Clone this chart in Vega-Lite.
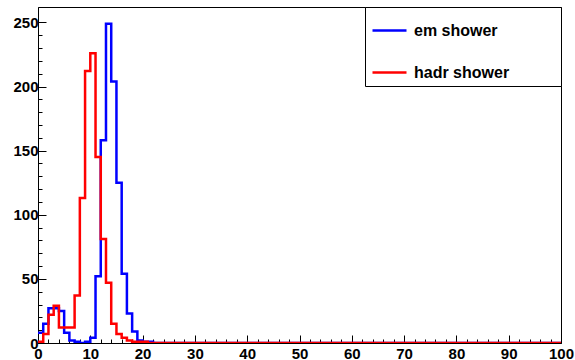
{
  "$schema": "https://vega.github.io/schema/vega-lite/v6.json",
  "width": 523,
  "height": 336,
  "autosize": "none",
  "padding": {"left": 38, "top": 7, "right": 14, "bottom": 17},
  "background": "white",
  "data": {"values": [
    {"x": 0, "em shower": 8, "hadr shower": 1},
    {"x": 1, "em shower": 15, "hadr shower": 7},
    {"x": 2, "em shower": 27, "hadr shower": 22},
    {"x": 3, "em shower": 27, "hadr shower": 29},
    {"x": 4, "em shower": 25, "hadr shower": 12},
    {"x": 5, "em shower": 8, "hadr shower": 12},
    {"x": 6, "em shower": 2, "hadr shower": 12},
    {"x": 7, "em shower": 1, "hadr shower": 37},
    {"x": 8, "em shower": 0, "hadr shower": 113},
    {"x": 9, "em shower": 1, "hadr shower": 212},
    {"x": 10, "em shower": 4, "hadr shower": 226},
    {"x": 11, "em shower": 52, "hadr shower": 145},
    {"x": 12, "em shower": 158, "hadr shower": 81},
    {"x": 13, "em shower": 249, "hadr shower": 47},
    {"x": 14, "em shower": 204, "hadr shower": 15},
    {"x": 15, "em shower": 125, "hadr shower": 7},
    {"x": 16, "em shower": 54, "hadr shower": 4},
    {"x": 17, "em shower": 23, "hadr shower": 2},
    {"x": 18, "em shower": 9, "hadr shower": 1},
    {"x": 19, "em shower": 2, "hadr shower": 1},
    {"x": 20, "em shower": 1, "hadr shower": 1},
    {"x": 21, "em shower": 1, "hadr shower": 0},
    {"x": 22, "em shower": 0, "hadr shower": 0},
    {"x": 23, "em shower": 0, "hadr shower": 0},
    {"x": 24, "em shower": 0, "hadr shower": 0},
    {"x": 25, "em shower": 0, "hadr shower": 0},
    {"x": 26, "em shower": 0, "hadr shower": 0},
    {"x": 27, "em shower": 0, "hadr shower": 0},
    {"x": 28, "em shower": 0, "hadr shower": 0},
    {"x": 29, "em shower": 0, "hadr shower": 0},
    {"x": 30, "em shower": 0, "hadr shower": 0},
    {"x": 31, "em shower": 0, "hadr shower": 0},
    {"x": 32, "em shower": 0, "hadr shower": 0},
    {"x": 33, "em shower": 0, "hadr shower": 0},
    {"x": 34, "em shower": 0, "hadr shower": 0},
    {"x": 35, "em shower": 0, "hadr shower": 0},
    {"x": 36, "em shower": 0, "hadr shower": 0},
    {"x": 37, "em shower": 0, "hadr shower": 0},
    {"x": 38, "em shower": 0, "hadr shower": 0},
    {"x": 39, "em shower": 0, "hadr shower": 0},
    {"x": 40, "em shower": 0, "hadr shower": 0},
    {"x": 41, "em shower": 0, "hadr shower": 0},
    {"x": 42, "em shower": 0, "hadr shower": 0},
    {"x": 43, "em shower": 0, "hadr shower": 0},
    {"x": 44, "em shower": 0, "hadr shower": 0},
    {"x": 45, "em shower": 0, "hadr shower": 0},
    {"x": 46, "em shower": 0, "hadr shower": 0},
    {"x": 47, "em shower": 0, "hadr shower": 0},
    {"x": 48, "em shower": 0, "hadr shower": 0},
    {"x": 49, "em shower": 0, "hadr shower": 0},
    {"x": 50, "em shower": 0, "hadr shower": 0},
    {"x": 51, "em shower": 0, "hadr shower": 0},
    {"x": 52, "em shower": 0, "hadr shower": 0},
    {"x": 53, "em shower": 0, "hadr shower": 0},
    {"x": 54, "em shower": 0, "hadr shower": 0},
    {"x": 55, "em shower": 0, "hadr shower": 0},
    {"x": 56, "em shower": 0, "hadr shower": 0},
    {"x": 57, "em shower": 0, "hadr shower": 0},
    {"x": 58, "em shower": 0, "hadr shower": 0},
    {"x": 59, "em shower": 0, "hadr shower": 0},
    {"x": 60, "em shower": 0, "hadr shower": 0},
    {"x": 61, "em shower": 0, "hadr shower": 0},
    {"x": 62, "em shower": 0, "hadr shower": 0},
    {"x": 63, "em shower": 0, "hadr shower": 0},
    {"x": 64, "em shower": 0, "hadr shower": 0},
    {"x": 65, "em shower": 0, "hadr shower": 0},
    {"x": 66, "em shower": 0, "hadr shower": 0},
    {"x": 67, "em shower": 0, "hadr shower": 0},
    {"x": 68, "em shower": 0, "hadr shower": 0},
    {"x": 69, "em shower": 0, "hadr shower": 0},
    {"x": 70, "em shower": 0, "hadr shower": 0},
    {"x": 71, "em shower": 0, "hadr shower": 0},
    {"x": 72, "em shower": 0, "hadr shower": 0},
    {"x": 73, "em shower": 0, "hadr shower": 0},
    {"x": 74, "em shower": 0, "hadr shower": 0},
    {"x": 75, "em shower": 0, "hadr shower": 0},
    {"x": 76, "em shower": 0, "hadr shower": 0},
    {"x": 77, "em shower": 0, "hadr shower": 0},
    {"x": 78, "em shower": 0, "hadr shower": 0},
    {"x": 79, "em shower": 0, "hadr shower": 0},
    {"x": 80, "em shower": 0, "hadr shower": 0},
    {"x": 81, "em shower": 0, "hadr shower": 0},
    {"x": 82, "em shower": 0, "hadr shower": 0},
    {"x": 83, "em shower": 0, "hadr shower": 0},
    {"x": 84, "em shower": 0, "hadr shower": 0},
    {"x": 85, "em shower": 0, "hadr shower": 0},
    {"x": 86, "em shower": 0, "hadr shower": 0},
    {"x": 87, "em shower": 0, "hadr shower": 0},
    {"x": 88, "em shower": 0, "hadr shower": 0},
    {"x": 89, "em shower": 0, "hadr shower": 0},
    {"x": 90, "em shower": 0, "hadr shower": 0},
    {"x": 91, "em shower": 0, "hadr shower": 0},
    {"x": 92, "em shower": 0, "hadr shower": 0},
    {"x": 93, "em shower": 0, "hadr shower": 0},
    {"x": 94, "em shower": 0, "hadr shower": 0},
    {"x": 95, "em shower": 0, "hadr shower": 0},
    {"x": 96, "em shower": 0, "hadr shower": 0},
    {"x": 97, "em shower": 0, "hadr shower": 0},
    {"x": 98, "em shower": 0, "hadr shower": 0},
    {"x": 99, "em shower": 0, "hadr shower": 0},
    {"x": 100, "em shower": 0, "hadr shower": 0}
  ]},
  "transform": [{"fold": ["em shower", "hadr shower"], "as": ["series", "v"]}],
  "mark": {"type": "line", "interpolate": "step-after", "strokeWidth": 2.5, "clip": true},
  "encoding": {
    "x": {
      "field": "x", "type": "quantitative",
      "scale": {"domain": [0, 100], "nice": false, "zero": false},
      "axis": {
        "title": null, "grid": false,
        "values": [0,2,4,6,8,10,12,14,16,18,20,22,24,26,28,30,32,34,36,38,40,42,44,46,48,50,52,54,56,58,60,62,64,66,68,70,72,74,76,78,80,82,84,86,88,90,92,94,96,98,100],
        "labelExpr": "datum.value % 10 === 0 ? datum.label : ''",
        "tickSize": {"condition": {"test": "datum.value % 10 === 0", "value": -8}, "value": -4},
        "labelPadding": 11,
        "labelFlush": false, "labelOverlap": false
      }
    },
    "y": {
      "field": "v", "type": "quantitative",
      "scale": {"domain": [0, 262], "nice": false},
      "axis": {
        "title": null, "grid": false,
        "values": [0,10,20,30,40,50,60,70,80,90,100,110,120,130,140,150,160,170,180,190,200,210,220,230,240,250],
        "labelExpr": "datum.value % 50 === 0 ? datum.label : ''",
        "tickSize": {"condition": {"test": "datum.value % 50 === 0", "value": -8}, "value": -4},
        "labelPadding": 8,
        "labelFlush": false, "labelOverlap": false
      }
    },
    "color": {
      "field": "series", "type": "nominal",
      "scale": {"domain": ["em shower", "hadr shower"], "range": ["#0000ff", "#ff0000"]},
      "legend": {
        "orient": "none", "legendX": 327, "legendY": 0,
        "title": "\u2007",
        "titleOrient": "right", "titlePadding": 47, "titleFontSize": 1, "titleColor": "white",
        "fillColor": "white", "strokeColor": "black",
        "padding": 5,
        "symbolType": "stroke", "symbolSize": 1156, "symbolStrokeWidth": 2.5,
        "symbolOffset": 1, "labelOffset": 6, "rowPadding": 15,
        "labelFont": "Liberation Sans", "labelFontWeight": "bold", "labelFontSize": 16,
        "labelColor": "black", "labelLimit": 400
      }
    }
  },
  "config": {
    "view": {"stroke": "black", "strokeWidth": 1},
    "axis": {
      "domainColor": "black", "domainWidth": 1, "tickColor": "black", "tickWidth": 1,
      "labelFont": "Liberation Sans", "labelFontWeight": "bold", "labelFontSize": 15, "labelColor": "black"
    }
  }
}
